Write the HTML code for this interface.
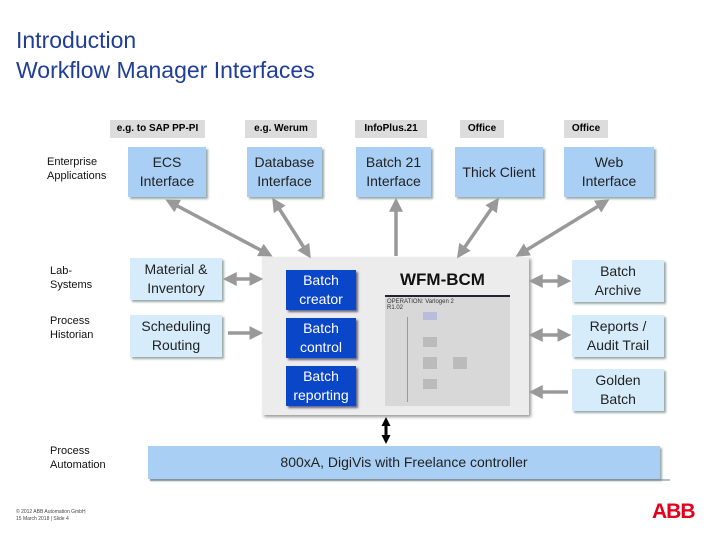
<!DOCTYPE html>
<html><head><meta charset="utf-8"><style>
body{margin:0;width:720px;height:540px;background:#fff;position:relative;overflow:hidden;font-family:"Liberation Sans",sans-serif}
.a{position:absolute}
.t{color:#1f3d99;font-size:23px;left:16px;line-height:30px}
.lbl{position:absolute;background:#dcdcdc;font-size:10px;font-weight:bold;text-align:center;height:18px;line-height:18px;top:120px}
.box{position:absolute;text-align:center;font-size:14px;color:#222;display:flex;align-items:center;justify-content:center;line-height:19px;box-shadow:2px 2px 2px #9aa}
.top{background:#a9cff4;top:147px;height:50px}
.side{background:#d6ecfb;height:42px;width:92px}
.blue{background:#0a46c8;color:#fff;left:286px;width:70px;height:40px;box-shadow:2px 2px 2px #668}
.small{font-size:11px;color:#111;line-height:14px}
</style></head><body>
<div class="a t" style="top:25px">Introduction<br>Workflow Manager Interfaces</div>

<div class="lbl" style="left:110px;width:95px">e.g. to SAP PP-PI</div>
<div class="lbl" style="left:245px;width:72px">e.g. Werum</div>
<div class="lbl" style="left:355px;width:72px">InfoPlus.21</div>
<div class="lbl" style="left:460px;width:44px">Office</div>
<div class="lbl" style="left:564px;width:44px">Office</div>

<div class="box top" style="left:128px;width:78px">ECS<br>Interface</div>
<div class="box top" style="left:247px;width:75px">Database<br>Interface</div>
<div class="box top" style="left:356px;width:75px">Batch 21<br>Interface</div>
<div class="box top" style="left:455px;width:88px">Thick Client</div>
<div class="box top" style="left:564px;width:90px">Web<br>Interface</div>

<div class="a small" style="left:47px;top:155px">Enterprise<br>Applications</div>
<div class="a small" style="left:50px;top:264px">Lab-<br>Systems</div>
<div class="a small" style="left:50px;top:314px">Process<br>Historian</div>
<div class="a small" style="left:50px;top:444px">Process<br>Automation</div>

<div class="box side" style="left:130px;top:258px">Material &amp;<br>Inventory</div>
<div class="box side" style="left:130px;top:315px">Scheduling<br>Routing</div>
<div class="box side" style="left:572px;top:260px">Batch<br>Archive</div>
<div class="box side" style="left:572px;top:315px">Reports /<br>Audit Trail</div>
<div class="box side" style="left:572px;top:369px">Golden<br>Batch</div>

<div class="a" style="left:262px;top:257px;width:267px;height:158px;background:#ececec;box-shadow:2px 2px 3px #999"></div>
<div class="box blue" style="top:270px">Batch<br>creator</div>
<div class="box blue" style="top:318px">Batch<br>control</div>
<div class="box blue" style="top:366px">Batch<br>reporting</div>
<div class="a" style="left:400px;top:270px;font-size:17px;font-weight:bold;color:#111">WFM-BCM</div>
<div class="a" style="left:385px;top:295px;width:125px;height:109px;background:#d8d8d8;border-top:2px solid #223">
 <div style="font-size:6px;color:#333;padding:2px">OPERATION: Varlogen 2<br>R1.02</div>
 <div style="position:absolute;left:22px;top:20px;width:1px;height:85px;background:#999"></div>
 <div style="position:absolute;left:38px;top:15px;width:14px;height:8px;background:#bbd"></div>
 <div style="position:absolute;left:38px;top:40px;width:14px;height:10px;background:#bbb"></div>
 <div style="position:absolute;left:38px;top:60px;width:14px;height:12px;background:#bbb"></div>
 <div style="position:absolute;left:68px;top:60px;width:14px;height:12px;background:#bbb"></div>
 <div style="position:absolute;left:38px;top:82px;width:14px;height:10px;background:#bbb"></div>
</div>

<div class="a" style="left:148px;top:446px;width:512px;height:33px;background:#a9cff4;box-shadow:2px 2px 2px #9aa;font-size:14px;line-height:33px;text-align:center;color:#222">800xA, DigiVis with Freelance controller</div>

<svg class="a" style="left:0;top:0" width="720" height="540">
<defs>
<marker id="g" markerWidth="4" markerHeight="4" refX="2.5" refY="2" orient="auto-start-reverse" markerUnits="strokeWidth"><path d="M0,0L4,2L0,4z" fill="#999"/></marker>
<marker id="k" markerWidth="3" markerHeight="3" refX="2" refY="1.5" orient="auto-start-reverse" markerUnits="strokeWidth"><path d="M0,0L3,1.5L0,3z" fill="#000"/></marker>
</defs>
<g stroke="#999" stroke-width="3.5" fill="none">
<line x1="170" y1="202" x2="268" y2="254" marker-start="url(#g)" marker-end="url(#g)"/>
<line x1="275" y1="202" x2="308" y2="254" marker-start="url(#g)" marker-end="url(#g)"/>
<line x1="396" y1="256" x2="396" y2="203" marker-end="url(#g)"/>
<line x1="496" y1="202" x2="460" y2="254" marker-start="url(#g)" marker-end="url(#g)"/>
<line x1="605" y1="202" x2="520" y2="254" marker-start="url(#g)" marker-end="url(#g)"/>
<line x1="228" y1="279" x2="258" y2="279" marker-start="url(#g)" marker-end="url(#g)"/>
<line x1="228" y1="333" x2="258" y2="333" marker-end="url(#g)"/>
<line x1="534" y1="281" x2="566" y2="281" marker-start="url(#g)" marker-end="url(#g)"/>
<line x1="534" y1="335" x2="566" y2="335" marker-start="url(#g)" marker-end="url(#g)"/>
<line x1="568" y1="392" x2="534" y2="392" marker-end="url(#g)"/>
</g>
<line x1="386" y1="420" x2="386" y2="441" stroke="#000" stroke-width="3" marker-start="url(#k)" marker-end="url(#k)"/>
<line x1="150" y1="480" x2="670" y2="480" stroke="#6a7a8a" stroke-width="1"/>
</svg>

<div class="a" style="left:16px;top:509px;font-size:5px;color:#444;line-height:7px">© 2012 ABB Automation GmbH<br>15 March 2018 | Slide 4</div>
<div class="a" style="left:652px;top:500px;font-size:21px;font-weight:bold;color:#e2001a;letter-spacing:-1px;font-family:'Liberation Sans Narrow','Liberation Sans',sans-serif">ABB</div>
</body></html>
